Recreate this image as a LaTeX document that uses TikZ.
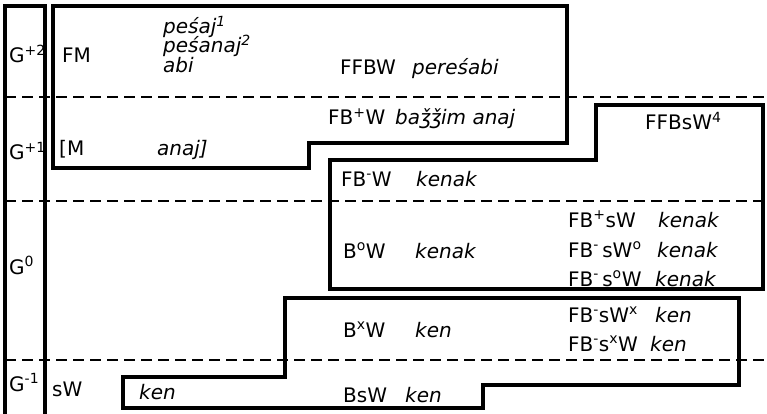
\documentclass[tikz,border=0pt]{standalone}
\usepackage{fontspec}
\setmainfont{DejaVu Sans}[ItalicFont={DejaVu Sans Oblique}]
\begin{document}
\begin{tikzpicture}[x=1pt,y=-1pt,
  box/.style={line width=3.1pt, line join=miter},
  dashline/.style={line width=2.3pt, dash pattern=on 11pt off 6pt},
  lab/.style={anchor=base west, inner sep=0pt, font=\fontsize{20}{22}\selectfont},
  itl/.style={anchor=base west, inner sep=0pt, font=\fontsize{20}{22}\selectfont\itshape}]
\useasboundingbox (0,0) rectangle (767,414);
% dashed level lines
\foreach \yy in {97,201,360} \draw[dashline] (5,\yy) -- (767,\yy);
% left column
\draw[box] (5,416) -- (5,6) -- (45,6) -- (45,416);
% upper box
\draw[box] (53,6) -- (567,6) -- (567,143) -- (309,143) -- (309,168) -- (53,168) -- cycle;
% right middle box
\draw[box] (596,105) -- (763,105) -- (763,289) -- (330,289) -- (330,160) -- (596,160) -- cycle;
% lower box
\draw[box] (285,298) -- (739,298) -- (739,385) -- (483,385) -- (483,408) -- (123,408) -- (123,377) -- (285,377) -- cycle;
% left column labels
\node[lab] (g2) at (9,63) {G\textsuperscript{+2}};
\node[lab] (g1) at (9,160) {G\textsuperscript{+1}};
\node[lab] (g0) at (9,274) {G\textsuperscript{0}};
\node[lab] (gm1) at (9,391) {G\textsuperscript{-1}};
% G+2
\node[lab] (fm) at (62,63) {FM};
\node[itl] (w1) at (163,34) {peśaj\textsuperscript{1}};
\node[itl] (w2) at (163,53) {peśanaj\textsuperscript{2}};
\node[itl] (w3) at (163,73) {abi};
\node[lab] (ffbw) at (340,75) {FFBW};
\node[itl] (w4) at (412,75) {pereśabi};
% G+1
\node[lab] (m) at (59,156) {[M};
\node[itl] (w5) at (157,156) {anaj]};
\node[lab] (fbpw) at (328,125) {FB\textsuperscript{+}W};
\node[itl] (w6) at (395,125) {baǯǯim anaj};
\node[lab] (ffbsw) at (645,130) {FFBsW\textsuperscript{4}};
\node[lab] (fbmw) at (341,186) {FB\textsuperscript{-}W};
\node[itl] (w7) at (416,186) {kenak};
% G0
\node[lab] (bow) at (343,258) {B\textsuperscript{o}W};
\node[itl] (w8) at (415,258) {kenak};
\node[lab] (fbpsw) at (568,227) {FB\textsuperscript{+}sW};
\node[itl] (w9) at (658,227) {kenak};
\node[lab] (fbmswo) at (568,257) {FB\textsuperscript{-}\,sW\textsuperscript{o}};
\node[itl] (w10) at (657,257) {kenak};
\node[lab] (fbmsow) at (568,286) {FB\textsuperscript{-}\,s\textsuperscript{o}W};
\node[itl] (w11) at (655,286) {kenak};
\node[lab] (bxw) at (343,337) {B\textsuperscript{x}W};
\node[itl] (w12) at (415,337) {ken};
\node[lab] (fbmswx) at (568,322) {FB\textsuperscript{-}sW\textsuperscript{x}};
\node[itl] (w13) at (655,322) {ken};
\node[lab] (fbmsxw) at (568,351) {FB\textsuperscript{-}s\textsuperscript{x}W};
\node[itl] (w14) at (650,351) {ken};
% G-1
\node[lab] (sw) at (52,396) {sW};
\node[itl] (w15) at (139,399) {ken};
\node[lab] (bsw) at (343,402) {BsW};
\node[itl] (w16) at (405,402) {ken};
\end{tikzpicture}
\end{document}
